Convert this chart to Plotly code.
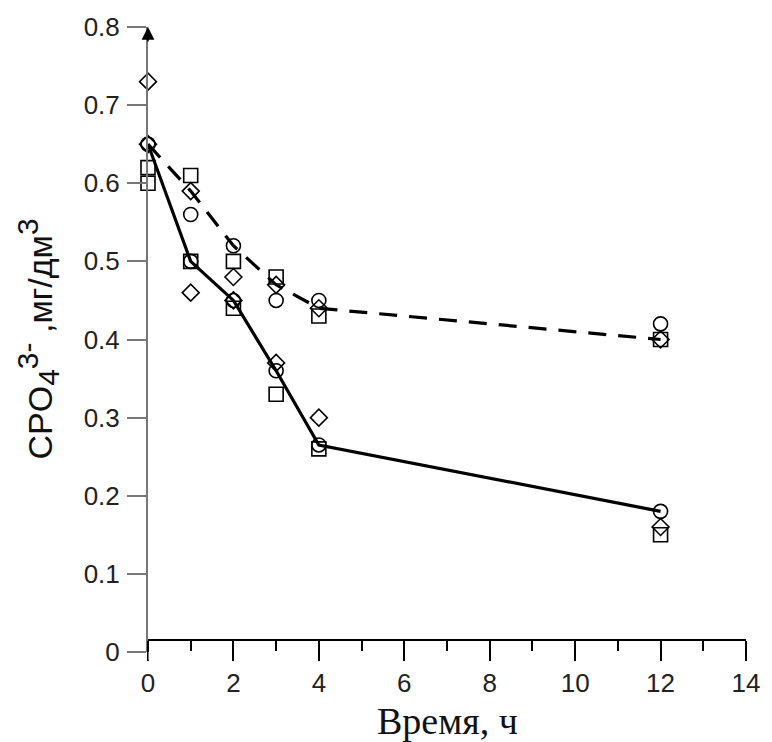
import plotly.graph_objects as go

# Time points, h
time_h = [0, 1, 2, 3, 4, 12]

# Upper group (dashed trend)
upper_squares = [0.62, 0.61, 0.50, 0.48, 0.43, 0.40]
upper_diamonds = [0.65, 0.59, 0.48, 0.47, 0.44, 0.40]
upper_circles = [0.65, 0.56, 0.52, 0.45, 0.45, 0.42]
upper_trend = [0.65, 0.59, 0.52, 0.47, 0.44, 0.40]

# Lower group (solid trend)
lower_squares = [0.60, 0.50, 0.44, 0.33, 0.26, 0.15]
lower_diamonds = [0.73, 0.46, 0.45, 0.37, 0.30, 0.16]
lower_circles = [0.65, 0.50, 0.45, 0.36, 0.265, 0.18]
lower_trend = [0.65, 0.50, 0.45, 0.36, 0.265, 0.18]

x_ticks = [0, 2, 4, 6, 8, 10, 12, 14]
y_ticks = [0, 0.1, 0.2, 0.3, 0.4, 0.5, 0.6, 0.7, 0.8]

fig = go.Figure()

# Trend lines
fig.add_trace(go.Scatter(x=time_h, y=upper_trend, mode="lines",
                         line=dict(color="black", width=3.2, dash="18px,12px"),
                         cliponaxis=False, showlegend=False))
fig.add_trace(go.Scatter(x=time_h, y=lower_trend, mode="lines",
                         line=dict(color="black", width=3.2),
                         cliponaxis=False, showlegend=False))

def markers(y, symbol, size):
    return go.Scatter(x=time_h, y=y, mode="markers",
                      marker=dict(symbol=symbol, size=size, color="black",
                                  line=dict(color="black", width=1.6)),
                      cliponaxis=False, showlegend=False)

for ys in (upper_squares, lower_squares):
    fig.add_trace(markers(ys, "square-open", 14))
for ys in (upper_diamonds, lower_diamonds):
    fig.add_trace(markers(ys, "diamond-open", 13))
for ys in (upper_circles, lower_circles):
    fig.add_trace(markers(ys, "circle-open", 14))

tick_font = dict(family="Liberation Sans, Arial", size=26, color="#222")

y_title = ("CPO<sub><span style='font-size:30px'>4</span></sub>"
           "<sup><span style='font-size:30px'>3-</span></sup>"
           " ,мг/дм<sup><span style='font-size:30px'>3</span></sup>")

fig.update_layout(
    width=772, height=742,
    margin=dict(l=148, r=16, t=27, b=90),
    paper_bgcolor="white", plot_bgcolor="white",
    xaxis=dict(
        range=[0, 14], tickvals=x_ticks, ticks="outside", ticklen=20,
        tickwidth=1.5, tickcolor="black", showline=True, linecolor="black",
        linewidth=1.5, showgrid=False, zeroline=False,
        anchor="free", position=0.0192, tickfont=tick_font,
        ticklabelstandoff=0,
        minor=dict(dtick=1, ticks="outside", ticklen=10, tickwidth=1.5,
                   tickcolor="black", showgrid=False),
    ),
    yaxis=dict(
        range=[0, 0.8], tickvals=y_ticks, ticks="outside", ticklen=19,
        tickwidth=1.5, tickcolor="#777", showline=True, linecolor="#777",
        linewidth=2, showgrid=False, zeroline=False, tickfont=tick_font,
        ticklabelstandoff=2,
    ),
    shapes=[
        # short stub of the vertical axis below zero
        dict(type="line", xref="x", yref="paper", x0=0, x1=0, y0=0, y1=-0.013,
             line=dict(color="#777", width=2)),
    ],
    annotations=[
        # axis arrowheads
        dict(x=14.05, y=0.0192, xref="x", yref="paper", ax=-16, ay=0,
             text="", showarrow=True, arrowhead=2, arrowsize=1.7,
             arrowwidth=1.5, arrowcolor="black"),
        dict(x=0, y=1.0, xref="x", yref="paper", ax=0, ay=16,
             text="", showarrow=True, arrowhead=2, arrowsize=1.7,
             arrowwidth=1.5, arrowcolor="black"),
        # axis titles
        dict(x=0.5, y=0, xref="paper", yref="paper", yshift=-69,
             xanchor="center", yanchor="middle", showarrow=False,
             text="Время, ч",
             font=dict(family="Liberation Serif, Times New Roman", size=38, color="#111")),
        dict(x=0, y=0.5, xref="paper", yref="paper", xshift=-111,
             xanchor="center", yanchor="middle", showarrow=False, textangle=-90,
             text=y_title,
             font=dict(family="Liberation Sans, Arial", size=34, color="#111")),
    ],
)

fig.write_html("out.html")
